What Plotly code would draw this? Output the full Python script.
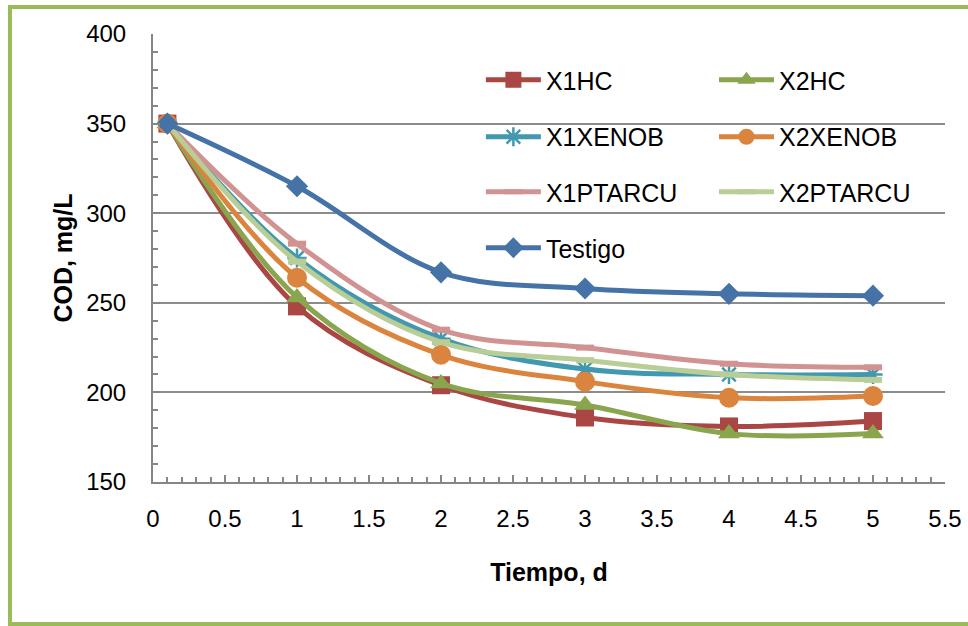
import plotly.graph_objects as go

# ---- data ----
tiempo = [0.1, 1, 2, 3, 4, 5]
x1hc = [350, 248, 204, 186, 181, 184]
x2hc = [350, 253, 205, 193, 177, 177]
x1xenob = [350, 275, 230, 213, 210, 210]
x2xenob = [350, 264, 221, 206, 197, 198]
x1ptarcu = [350, 283, 235, 225, 216, 214]
x2ptarcu = [350, 273, 228, 218, 210, 207]
testigo = [350, 315, 267, 258, 255, 254]

series_names = ["X1HC", "X2HC", "X1XENOB", "X2XENOB", "X1PTARCU", "X2PTARCU", "Testigo"]
x_tick_vals = [0, 0.5, 1, 1.5, 2, 2.5, 3, 3.5, 4, 4.5, 5, 5.5]
x_tick_text = ["0", "0.5", "1", "1.5", "2", "2.5", "3", "3.5", "4", "4.5", "5", "5.5"]
y_tick_vals = [150, 200, 250, 300, 350, 400]

FONT = "Liberation Sans, Arial, sans-serif"

# legend grid placement (paper coords): column x, row y
COL_X = [0.414, 0.7083]
ROW_Y = [0.8973, 0.7701, 0.6473, 0.5223]

styles = {
    "X1HC": dict(color="#AA4643", symbol="square", size=18, lw=0, cell=(0, 0)),
    "X2HC": dict(color="#89A54E", symbol="triangle-up", size=19, lw=0, cell=(0, 1)),
    "X1XENOB": dict(color="#4198AF", symbol="asterisk-open", size=16, lw=2.5, cell=(1, 0)),
    "X2XENOB": dict(color="#DB843D", symbol="circle", size=20, lw=0, cell=(1, 1)),
    "X1PTARCU": dict(color="#D19392", symbol="line-ew-open", size=13, lw=6, cell=(2, 0)),
    "X2PTARCU": dict(color="#B9CD96", symbol="line-ew-open", size=13, lw=6, cell=(2, 1)),
    "Testigo": dict(color="#4572A7", symbol="diamond", size=17, lw=0, cell=(3, 0)),
}
data = [x1hc, x2hc, x1xenob, x2xenob, x1ptarcu, x2ptarcu, testigo]

fig = go.Figure()
legends = {}
for i, (name, ys) in enumerate(zip(series_names, data)):
    s = styles[name]
    lid = "legend" if i == 0 else f"legend{i + 1}"
    r, c = s["cell"]
    legends[lid] = dict(orientation="v", xanchor="left", yanchor="middle",
                        x=COL_X[c], y=ROW_Y[r],
                        font=dict(family=FONT, size=25, color="#000000"),
                        itemwidth=55, bgcolor="rgba(0,0,0,0)", borderwidth=0)
    fig.add_trace(go.Scatter(
        x=tiempo, y=ys, name=name, mode="lines+markers",
        line=dict(color=s["color"], width=5, shape="spline", smoothing=1.0),
        marker=dict(symbol=s["symbol"], size=s["size"], color=s["color"],
                    line=dict(color=s["color"], width=s["lw"])),
        legend=lid,
    ))

fig.update_layout(
    width=968, height=626,
    margin=dict(l=153, r=23, t=34, b=144),
    paper_bgcolor="white", plot_bgcolor="white",
    showlegend=True,
    **legends,
    xaxis=dict(
        range=[0, 5.5], tickvals=x_tick_vals, ticktext=x_tick_text,
        automargin=False,
        showgrid=False, zeroline=False,
        showline=True, linecolor="#868686", linewidth=2,
        ticks="inside", ticklen=7, tickwidth=2, tickcolor="#868686",
        minor=dict(dtick=0.1, ticks="inside", ticklen=5, tickwidth=1.5, tickcolor="#868686", showgrid=False),
        ticklabelstandoff=14,
        tickfont=dict(family=FONT, size=24, color="#000000"),
        title=dict(text="<b>Tiempo, d</b>", font=dict(family=FONT, size=25, color="#000000"), standoff=33),
    ),
    yaxis=dict(
        range=[150, 400], tickvals=y_tick_vals,
        automargin=False,
        showgrid=True, gridcolor="#8C8C8C", gridwidth=1.5, zeroline=False,
        showline=True, linecolor="#868686", linewidth=2,
        ticks="inside", ticklen=7, tickwidth=2, tickcolor="#868686",
        minor=dict(dtick=10, ticks="inside", ticklen=5, tickwidth=1.5, tickcolor="#868686", showgrid=False),
        ticklabelstandoff=20,
        tickfont=dict(family=FONT, size=24, color="#000000"),
        title=dict(text="<b>COD, mg/L</b>", font=dict(family=FONT, size=25, color="#000000"), standoff=6),
    ),
    shapes=[dict(type="rect", xref="paper", yref="paper",
                 x0=-0.1806, x1=1.038, y0=-0.317, y1=1.0603,
                 line=dict(color="#9BBB59", width=4), fillcolor="rgba(0,0,0,0)", layer="below")],
)

fig.write_html("out.html", config={"displayModeBar": False},
               post_script="document.body.style.margin='0';")
